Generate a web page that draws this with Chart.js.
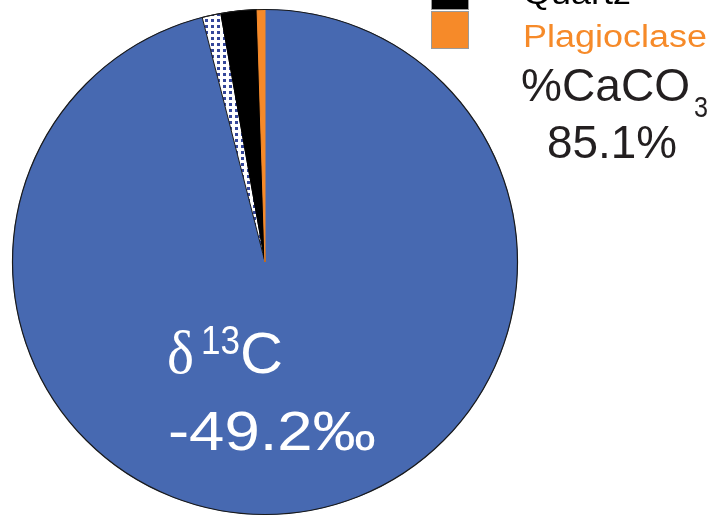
<!DOCTYPE html>
<html>
<head>
<meta charset="utf-8">
<script src="https://cdn.jsdelivr.net/npm/chart.js@4"></script>
<style>
  html, body { margin: 0; padding: 0; background: #ffffff; overflow: hidden; }
  #wrap { position: relative; width: 716px; height: 517px; }
</style>
</head>
<body>
<div id="wrap"><canvas id="c" width="716" height="517"></canvas></div>
<script>
// Mineral composition of the carbonate sample (% of total)
const minerals = ['Calcite', 'Dolomite', 'Quartz', 'Plagioclase'];
const fractions = [96.0, 1.2, 2.3, 0.5];
const legendTextColors = ['#4769B1', '#34469A', '#000000', '#F68A29'];

// Bulk values written on and beside the pie
const caco3Title = '%CaCO';
const caco3Sub = '3';
const caco3Value = '85.1%';
const isotopeSymbol = 'δ';
const isotopeMass = '13';
const isotopeElement = 'C';
const isotopeValue = '-49.2‰';

const SANS = '"Liberation Sans", Arial, Helvetica, sans-serif';
const SERIF = '"Liberation Serif", "Times New Roman", serif';

// White fill with small blue squares for the dolomite slice
function dotPattern() {
  const t = document.createElement('canvas');
  t.width = 6; t.height = 6;
  const g = t.getContext('2d');
  g.fillStyle = '#ffffff';
  g.fillRect(0, 0, 6, 6);
  g.fillStyle = '#34469A';
  g.fillRect(1, 1, 3, 3);
  return g.createPattern(t, 'repeat');
}

const sliceColors = ['#4769B1', dotPattern(), '#000000', '#F68A29'];
const sliceBorders = ['#4769B1', '#1a1a1a', '#000000', '#F68A29'];

// Draw a string starting at x, optionally stretched to a given width
function drawText(ctx, str, x, y, font, color, width) {
  ctx.save();
  ctx.font = font;
  ctx.fillStyle = color;
  ctx.textBaseline = 'alphabetic';
  ctx.textAlign = 'left';
  ctx.translate(x, y);
  if (width) {
    const w = ctx.measureText(str).width;
    ctx.scale(width / w, 1);
  }
  ctx.fillText(str, 0, 0);
  ctx.restore();
}

// Thin dark rim round the whole pie
const pieRim = {
  id: 'pieRim',
  afterDatasetsDraw(chart) {
    const arc = chart.getDatasetMeta(0).data[0];
    if (!arc) return;
    const { x, y, outerRadius } = arc.getProps(['x', 'y', 'outerRadius'], true);
    const ctx = chart.ctx;
    ctx.save();
    ctx.beginPath();
    ctx.arc(x, y, outerRadius, 0, Math.PI * 2);
    ctx.strokeStyle = '#1a1a1a';
    ctx.lineWidth = 1.2;
    ctx.stroke();
    ctx.restore();
  }
};

// Stacked legend in the upper right, last entry at the bottom
const sideLegend = {
  id: 'sideLegend',
  afterDraw(chart) {
    const ctx = chart.ctx;
    const ds = chart.data.datasets[0];
    const n = chart.data.labels.length;
    chart.data.labels.forEach((name, i) => {
      const k = n - 1 - i;
      const boxBottom = 49 - 39 * k;
      ctx.save();
      ctx.fillStyle = ds.backgroundColor[i];
      ctx.fillRect(431, boxBottom - 38, 38, 38);
      ctx.strokeStyle = '#9a9a9a';
      ctx.lineWidth = 1;
      ctx.strokeRect(431.5, boxBottom - 37.5, 37, 37);
      ctx.restore();
      ctx.save();
      ctx.font = '31px ' + SANS;
      const w = ctx.measureText(name).width * 1.16;
      ctx.restore();
      drawText(ctx, name, 523, 47.3 - 43 * k, '31px ' + SANS, legendTextColors[i], w);
    });
  }
};

// Bulk carbonate and carbon-isotope annotations
const annotations = {
  id: 'annotations',
  afterDraw(chart) {
    const ctx = chart.ctx;
    drawText(ctx, caco3Title, 521, 101, '47px ' + SANS, '#231f20', 169);
    drawText(ctx, caco3Sub, 694, 117, '29px ' + SANS, '#231f20', 14);
    drawText(ctx, caco3Value, 547, 158, '47px ' + SANS, '#231f20', 130);

    drawText(ctx, isotopeSymbol, 167, 373, '62px ' + SERIF, '#ffffff', 27);
    drawText(ctx, isotopeMass, 201, 354, '40px ' + SANS, '#ffffff', 39);
    drawText(ctx, isotopeElement, 240, 373, '58px ' + SANS, '#ffffff', 43);
    drawText(ctx, isotopeValue, 168, 450, '56px ' + SANS, '#ffffff', 208);
  }
};

new Chart(document.getElementById('c'), {
  type: 'pie',
  data: {
    labels: minerals,
    datasets: [{
      data: fractions,
      backgroundColor: sliceColors,
      borderColor: sliceBorders,
      borderWidth: 1
    }]
  },
  options: {
    responsive: false,
    animation: false,
    devicePixelRatio: 1,
    layout: { padding: { left: 12, right: 198, top: 9, bottom: 2 } },
    plugins: {
      legend: { display: false },
      tooltip: { enabled: false }
    }
  },
  plugins: [pieRim, sideLegend, annotations]
});
</script>
</body>
</html>
